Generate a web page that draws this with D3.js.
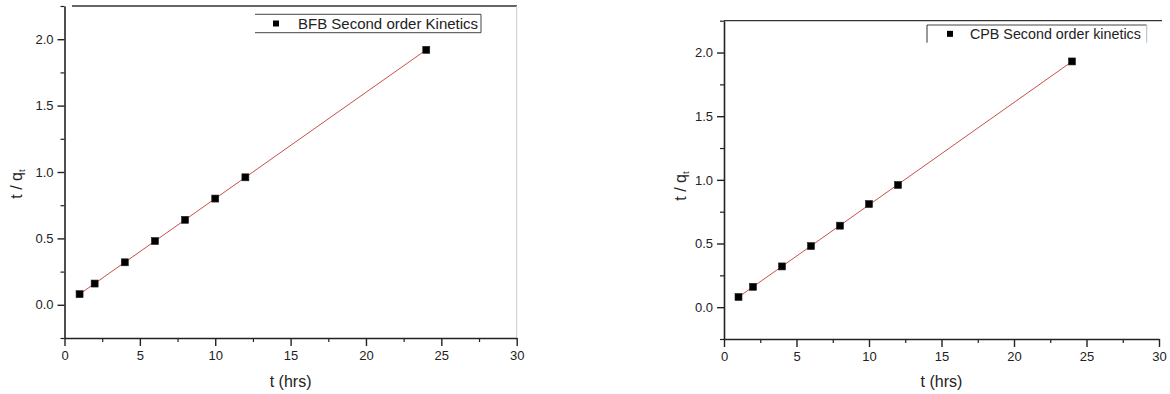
<!DOCTYPE html>
<html>
<head>
<meta charset="utf-8">
<script src="https://cdn.jsdelivr.net/npm/d3@7/dist/d3.min.js"></script>
<style>
  html, body { margin: 0; padding: 0; background: #fff; }
  svg { display: block; }
  text { font-family: "Liberation Sans", Arial, sans-serif; fill: #222; }
</style>
</head>
<body>
<svg id="chart" width="1170" height="394"></svg>
<script>
// Sampling times (hours)
const timeHrs = [1, 2, 4, 6, 8, 10, 12, 24];
// t / qt for each dye
const bfbValues = [0.08, 0.16, 0.32, 0.48, 0.64, 0.80, 0.96, 1.92];
const cpbValues = [0.08, 0.16, 0.32, 0.48, 0.64, 0.81, 0.96, 1.93];
const seriesNames = ["BFB Second order Kinetics", "CPB Second order kinetics"];
// Axis ticks
const xTicks = [0, 5, 10, 15, 20, 25, 30];
const xMinorTicks = [2.5, 7.5, 12.5, 17.5, 22.5, 27.5];
const yTicks = [0.0, 0.5, 1.0, 1.5, 2.0];
const yMinorTicks = [-0.25, 0.25, 0.75, 1.25, 1.75, 2.25];
const xDomain = [0, 30];
const yDomain = [-0.25, 2.25];

const svg = d3.select("#chart");

// Least-squares line through the points
function linearFit(xs, ys) {
  const n = xs.length;
  const mx = d3.mean(xs), my = d3.mean(ys);
  let sxy = 0, sxx = 0;
  for (let i = 0; i < n; i++) { sxy += (xs[i] - mx) * (ys[i] - my); sxx += (xs[i] - mx) ** 2; }
  const slope = sxy / sxx;
  return { slope, intercept: my - slope * mx };
}

const panels = [
  {
    values: bfbValues, name: seriesNames[0],
    left: 64.5, right: 516.7, top: 6, bottom: 338,
    topLineFrom: 72, topLineTo: 517, rightAxis: true,
    tickFont: 13, titleFont: 16, legendFont: 15,
    yLabelX: 16, yLabelY: 184, xLabelY: 387,
    legend: { x: 255, y: 14.3, w: 226, h: 18.4, symX: 276, textX: 298,
              lines: ["top", "bottom", "right"] }
  },
  {
    values: cpbValues, name: seriesNames[1],
    left: 724, right: 1159, top: 20.7, bottom: 339,
    topLineFrom: 724, topLineTo: 1162, rightAxis: false,
    tickFont: 13, titleFont: 16, legendFont: 14.3,
    yLabelX: 680, yLabelY: 186, xLabelY: 387,
    legend: { x: 927, y: 25, w: 219.7, h: 17.7, symX: 950, textX: 970,
              lines: ["top", "left", "rightGray"] }
  }
];

panels.forEach(p => {
  const x = d3.scaleLinear().domain(xDomain).range([p.left, p.right]);
  const y = d3.scaleLinear().domain(yDomain).range([p.bottom, p.top]);
  const g = svg.append("g");

  // top frame line and light right border
  g.append("line")
    .attr("x1", p.topLineFrom).attr("x2", p.topLineTo)
    .attr("y1", p.top).attr("y2", p.top)
    .attr("stroke", "#333").attr("stroke-width", 1.3);
  if (p.rightAxis) {
    g.append("line")
      .attr("x1", p.right).attr("x2", p.right)
      .attr("y1", p.top).attr("y2", p.bottom)
      .attr("stroke", "#ccc").attr("stroke-width", 1);
  }

  // x axis: minor then major ticks
  g.append("g").attr("transform", `translate(0,${p.bottom})`)
    .call(d3.axisBottom(x).tickValues(xMinorTicks).tickSize(4).tickFormat(""))
    .call(s => s.select(".domain").remove())
    .call(s => s.selectAll("line").attr("stroke", "#222").attr("stroke-width", 1.2));
  const xa = g.append("g").attr("transform", `translate(0,${p.bottom})`)
    .call(d3.axisBottom(x).tickValues(xTicks).tickSizeInner(8).tickSizeOuter(0).tickPadding(5)
      .tickFormat(d3.format("d")));
  xa.select(".domain").attr("stroke", "#222").attr("stroke-width", 1.6);
  xa.selectAll("line").attr("stroke", "#222").attr("stroke-width", 1.4);
  xa.selectAll("text").attr("font-size", p.tickFont)
    .style("font-family", '"Liberation Sans", Arial, sans-serif').attr("fill", "#222");

  // y axis: minor then major ticks
  g.append("g").attr("transform", `translate(${p.left},0)`)
    .call(d3.axisLeft(y).tickValues(yMinorTicks).tickSize(4).tickFormat(""))
    .call(s => s.select(".domain").remove())
    .call(s => s.selectAll("line").attr("stroke", "#222").attr("stroke-width", 1.2));
  const ya = g.append("g").attr("transform", `translate(${p.left},0)`)
    .call(d3.axisLeft(y).tickValues(yTicks).tickSizeInner(7).tickSizeOuter(0).tickPadding(4)
      .tickFormat(d3.format(".1f")));
  ya.select(".domain").attr("stroke", "#222").attr("stroke-width", 1.6);
  ya.selectAll("line").attr("stroke", "#222").attr("stroke-width", 1.4);
  ya.selectAll("text").attr("font-size", p.tickFont)
    .style("font-family", '"Liberation Sans", Arial, sans-serif').attr("fill", "#222");

  // axis titles
  g.append("text")
    .attr("x", (p.left + p.right) / 2).attr("y", p.xLabelY)
    .attr("text-anchor", "middle").attr("font-size", p.titleFont)
    .text("t (hrs)");
  const yl = g.append("text")
    .attr("transform", `translate(${p.yLabelX},${p.yLabelY}) rotate(-90)`)
    .attr("text-anchor", "middle").attr("dy", "0.35em").attr("font-size", p.titleFont);
  yl.append("tspan").text("t / q");
  yl.append("tspan").attr("font-size", p.titleFont * 0.6).attr("dy", "0.35em").text("t");

  // fitted line
  const fit = linearFit(timeHrs, p.values);
  const x0 = d3.min(timeHrs), x1 = d3.max(timeHrs);
  g.append("line")
    .attr("x1", x(x0)).attr("y1", y(fit.intercept + fit.slope * x0))
    .attr("x2", x(x1)).attr("y2", y(fit.intercept + fit.slope * x1))
    .attr("stroke", "#c9504a").attr("stroke-width", 1);

  // data markers
  const sz = 7;
  g.selectAll("rect.pt").data(timeHrs.map((t, i) => [t, p.values[i]]))
    .enter().append("rect").attr("class", "pt")
    .attr("x", d => x(d[0]) - sz / 2).attr("y", d => y(d[1]) - sz / 2)
    .attr("width", sz).attr("height", sz)
    .attr("fill", "#000").attr("stroke", "#222").attr("stroke-width", 0.6);

  // legend
  const L = p.legend;
  const lg = g.append("g");
  L.lines.forEach(side => {
    const ln = lg.append("line").attr("stroke-width", 1);
    if (side === "top") ln.attr("x1", L.x).attr("x2", L.x + L.w).attr("y1", L.y).attr("y2", L.y).attr("stroke", "#444");
    if (side === "bottom") ln.attr("x1", L.x).attr("x2", L.x + L.w).attr("y1", L.y + L.h).attr("y2", L.y + L.h).attr("stroke", "#444");
    if (side === "right") ln.attr("x1", L.x + L.w).attr("x2", L.x + L.w).attr("y1", L.y).attr("y2", L.y + L.h).attr("stroke", "#444");
    if (side === "rightGray") ln.attr("x1", L.x + L.w).attr("x2", L.x + L.w).attr("y1", L.y).attr("y2", L.y + L.h).attr("stroke", "#bbb");
    if (side === "left") ln.attr("x1", L.x).attr("x2", L.x).attr("y1", L.y).attr("y2", L.y + L.h).attr("stroke", "#333");
  });
  const cy = L.y + L.h / 2;
  lg.append("rect").attr("x", L.symX - 3).attr("y", cy - 3).attr("width", 6).attr("height", 6).attr("fill", "#000");
  lg.append("text").attr("x", L.textX).attr("y", cy).attr("dy", "0.36em")
    .attr("font-size", p.legendFont).text(p.name);
});
</script>
</body>
</html>
